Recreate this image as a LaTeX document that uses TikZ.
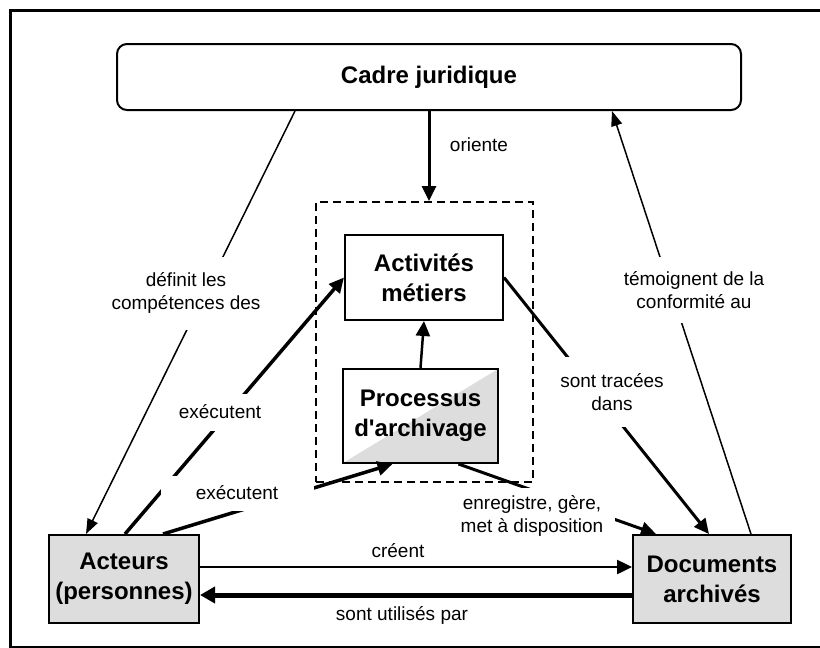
\documentclass[tikz,border=0pt]{standalone}
\usepackage{fontspec}
\newfontfamily\arial{Liberation Sans}
\usetikzlibrary{arrows.meta}
\definecolor{boxgray}{RGB}{221,221,221}

\begin{document}
\begin{tikzpicture}[x=1pt,y=-1pt,
    box/.style={draw,line width=2pt,align=center,inner sep=0pt,font=\arial\fontsize{24}{30}\selectfont\bfseries},
    lbl/.style={fill=white,align=center,inner sep=2pt,font=\arial\fontsize{19}{23}\selectfont},
    txt/.style={font=\arial\fontsize{19}{23}\selectfont},
    arr/.style={-{Triangle[length=15pt,width=14pt]}},
    thinarr/.style={-{Triangle[length=15pt,width=11pt]}}]
    \useasboundingbox (0,0) rectangle (820,648);
    \draw[line width=3pt] (830,10) -- (10,10) -- (10,647) -- (830,647);

    \node[box,rounded corners=10pt,minimum width=624pt,minimum height=66pt] (cadre) at (429,77) {Cadre juridique};
    \node[draw,line width=2pt,dash pattern=on 8pt off 5pt,minimum width=217pt,minimum height=280pt] (zone) at (424.5,342) {};
    \node[box,fill=white,minimum width=158pt,minimum height=85pt] (activites) at (424,277.5) {Activités\\métiers};
    \node[box,minimum width=155pt,minimum height=94pt,
        path picture={\fill[boxgray] (path picture bounding box.south west) -- (path picture bounding box.south east) -- (path picture bounding box.north east) -- cycle;}]
        (processus) at (420.5,416) {Processus\\d'archivage};
    \node[box,fill=boxgray,minimum width=150pt,minimum height=88pt] (acteurs) at (124,579) {Acteurs\\(personnes)};
    \node[box,fill=boxgray,minimum width=158pt,minimum height=88pt] (documents) at (712,579) {Documents\\archivés};

    \draw[line width=1.5pt,thinarr] ([xshift=-134pt]cadre.south) -- ([xshift=-38pt]acteurs.north);
    \draw[line width=1.5pt,thinarr] ([xshift=39pt]documents.north) -- ([xshift=183pt]cadre.south);
    \draw[line width=3pt,arr] (cadre.south) -- (cadre.south |- zone.north);
    \draw[line width=3.5pt,arr] ([xshift=1pt]acteurs.north) -- (activites.west);
    \draw[line width=3.5pt,arr] ([xshift=39pt]acteurs.north) -- ([xshift=-28pt]processus.south);
    \draw[line width=2.5pt,arr] (processus.north) -- (activites.south);
    \draw[line width=3pt,arr] (activites.east) -- ([xshift=-3pt]documents.north);
    \draw[line width=3pt,arr] ([xshift=38pt]processus.south) -- ([xshift=-56pt]documents.north);
    \draw[line width=2.5pt,arr] ([yshift=12pt]acteurs.east) -- ([yshift=12pt]documents.west);
    \draw[line width=5pt,-{Triangle[length=15pt,width=16pt]}] ([yshift=-16pt]documents.west) -- ([yshift=-16pt]acteurs.east);

    \node[lbl,minimum height=73pt] (definit) at (186,293) {définit les\\compétences des};
    \node[lbl,minimum height=66pt] (temoignent) at (694,290) {témoignent de la\\conformité au};
    \node[txt] (oriente) at (479,145) {oriente};
    \node[lbl,minimum height=37pt] (executent) at (220,412) {exécutent};
    \node[lbl,minimum width=153pt,minimum height=35pt] (executentb) at (237,493) {exécutent};
    \node[lbl,minimum height=70pt] (tracees) at (612,392) {sont tracées\\dans};
    \node[lbl,minimum width=165pt,minimum height=56pt] (enregistre) at (532,516) {enregistre, gère,\\met à disposition};
    \node[txt] (creent) at (398,551) {créent};
    \node[txt] (utilises) at (402,615) {sont utilisés par};
\end{tikzpicture}
\end{document}
